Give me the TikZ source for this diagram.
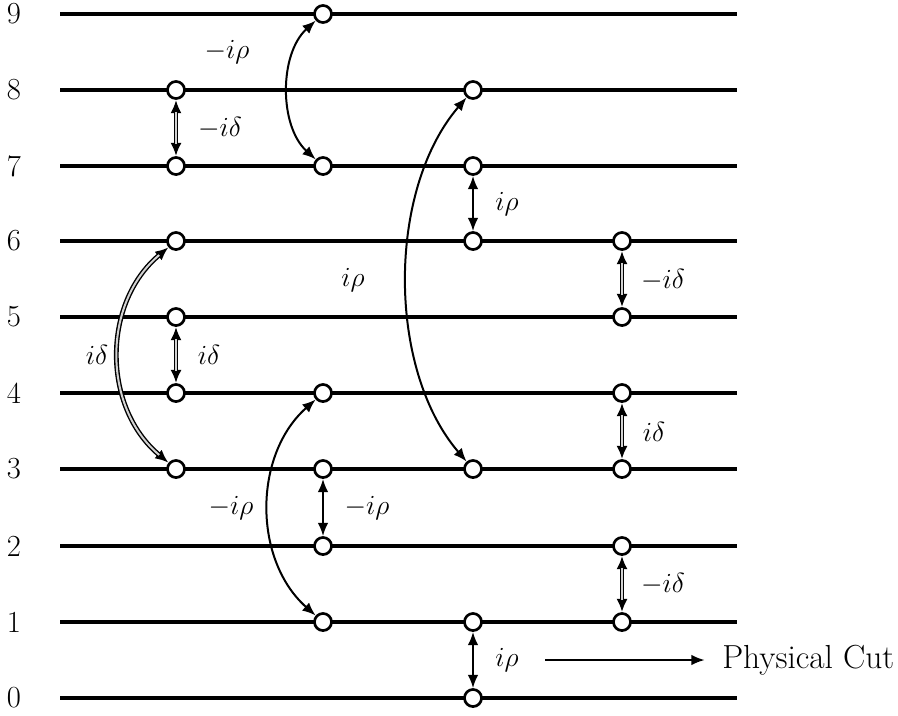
\documentclass[tikz,border=0pt]{standalone}
\usepackage{fontspec}
\usetikzlibrary{arrows.meta}
\begin{document}
\begin{tikzpicture}[x=0.75pt,y=-0.75pt,
  hline/.style={line width=2.3pt,black},
  dot/.style={circle,draw=black,fill=white,line width=2pt,minimum size=12.8pt,inner sep=0pt},
  lvl/.style={font=\fontsize{23}{27}\selectfont},
  lab/.style={font=\fontsize{21}{25}\selectfont},
  sgl/.style={{Latex[length=10pt,width=8pt]}-{Latex[length=10pt,width=8pt]},line width=1.5pt},
  dbl/.style={{Latex[length=10pt,width=8.5pt]}-{Latex[length=10pt,width=8.5pt]},line width=3.6pt,
     postaction={draw=gray!35,line width=1.5pt,-,shorten >=9pt,shorten <=9pt}}
]
\useasboundingbox (0,0) rectangle (898,715);
% levels
\foreach \n/\y in {9/14,8/90,7/166,6/241,5/317,4/393,3/469,2/546,1/622,0/698}{
  \node[lvl] (l\n) at (14,\y) {\n};
  \draw[hline] (60,\y) -- (737,\y);
}
% nodes column A (x=176)
\node[dot] (a8) at (176,90) {};
\node[dot] (a7) at (176,166) {};
\node[dot] (a6) at (176,241) {};
\node[dot] (a5) at (176,317) {};
\node[dot] (a4) at (176,393) {};
\node[dot] (a3) at (176,469) {};
% column B (x=323)
\node[dot] (b9) at (323,14) {};
\node[dot] (b7) at (323,166) {};
\node[dot] (b4) at (323,393) {};
\node[dot] (b3) at (323,469) {};
\node[dot] (b2) at (323,546) {};
\node[dot] (b1) at (323,622) {};
% column C (x=473)
\node[dot] (c8) at (473,90) {};
\node[dot] (c7) at (473,166) {};
\node[dot] (c6) at (473,241) {};
\node[dot] (c3) at (473,469) {};
\node[dot] (c1) at (473,622) {};
\node[dot] (c0) at (473,698) {};
% column D (x=622)
\node[dot] (d6) at (622,241) {};
\node[dot] (d5) at (622,317) {};
\node[dot] (d4) at (622,393) {};
\node[dot] (d3) at (622,469) {};
\node[dot] (d2) at (622,546) {};
\node[dot] (d1) at (622,622) {};
% double (delta) connectors
\draw[dbl] (a8) -- (a7);
\draw[dbl] (a5) -- (a4);
\draw[dbl] (a6) .. controls +(-74,62) and +(-74,-62) .. (a3);
\draw[dbl] (d6) -- (d5);
\draw[dbl] (d4) -- (d3);
\draw[dbl] (d2) -- (d1);
% single (rho) connectors
\draw[sgl] (b9) .. controls +(-44,40) and +(-44,-40) .. (b7);
\draw[sgl] (b4) .. controls +(-70,62) and +(-70,-62) .. (b1);
\draw[sgl] (b3) -- (b2);
\draw[sgl] (c8) .. controls +(-86,100) and +(-86,-100) .. (c3);
\draw[sgl] (c7) -- (c6);
\draw[sgl] (c1) -- (c0);
% labels
\node[lab] (t1) at (220,128) {$-i\delta$};
\node[lab] (t2) at (209,355) {$i\delta$};
\node[lab] (t3) at (97,355) {$i\delta$};
\node[lab] (t4) at (227,52) {$-i\rho$};
\node[lab] (t5) at (231,508) {$-i\rho$};
\node[lab] (t6) at (367,508) {$-i\rho$};
\node[lab] (t7) at (353,280) {$i\rho$};
\node[lab] (t8) at (507,204) {$i\rho$};
\node[lab] (t9) at (507,660) {$i\rho$};
\node[lab] (t10) at (663,280) {$-i\delta$};
\node[lab] (t11) at (654,432) {$i\delta$};
\node[lab] (t12) at (663,584) {$-i\delta$};
% physical cut
\coordinate (pc) at (545,660);
\node[font=\fontsize{25}{29}\selectfont,anchor=west,inner sep=0pt] (pcut) at (722,660) {Physical Cut};
\draw[line width=1.5pt,-{Latex[length=10pt,width=8pt]}] (pc) -- ([xshift=-13pt]pcut.west);
\end{tikzpicture}
\end{document}
